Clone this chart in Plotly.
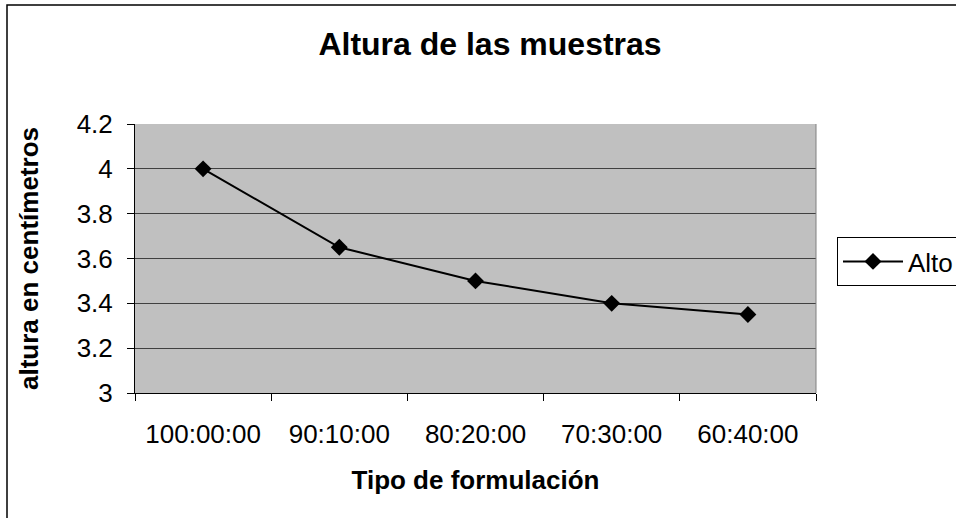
import plotly.graph_objects as go

# Sample formulations and measured heights (cm)
formulaciones = ["100:00:00", "90:10:00", "80:20:00", "70:30:00", "60:40:00"]
alto = [4.0, 3.65, 3.5, 3.4, 3.35]

y_ticks = [3, 3.2, 3.4, 3.6, 3.8, 4, 4.2]
y_tick_text = ["3", "3.2", "3.4", "3.6", "3.8", "4", "4.2"]

W, H = 956, 518
L, R, T, B = 135, 140, 124, 125
pw, ph = W - L - R, H - T - B


def px_x(x):
    return (x - L) / pw


def px_y(y):
    return (H - B - y) / ph


FONT = "Liberation Sans, Arial, sans-serif"

fig = go.Figure()
fig.add_trace(go.Scatter(
    x=formulaciones, y=alto, name="Alto", mode="lines+markers",
    line=dict(color="black", width=2),
    marker=dict(symbol="diamond", size=13, color="black"),
))

fig.update_layout(
    width=W, height=H,
    margin=dict(l=L, r=R, t=T, b=B, autoexpand=False),
    paper_bgcolor="white", plot_bgcolor="#C0C0C0",
    font=dict(family=FONT, size=26, color="black"),
    title=dict(text="<b>Altura de las muestras</b>", font=dict(size=32),
               x=px_x(490), xref="paper", xanchor="center",
               y=1 - 44 / H, yref="container", yanchor="middle"),
    showlegend=True,
    legend=dict(x=px_x(837), xanchor="left", y=px_y(237), yanchor="top",
                bordercolor="black", borderwidth=1, bgcolor="white",
                font=dict(size=26), itemwidth=60, tracegroupgap=0),
    xaxis=dict(
        type="category", range=[-0.5, 4.5],
        showline=True, linecolor="black", linewidth=1,
        ticks="outside", tickson="boundaries", ticklen=7, tickcolor="black",
        showgrid=False, zeroline=False,
        title=dict(text="<b>Tipo de formulación</b>", font=dict(size=26), standoff=22),
        ticklabelstandoff=18,
    ),
    yaxis=dict(
        range=[3, 4.2], tickvals=y_ticks, ticktext=y_tick_text,
        showline=True, linecolor="black", linewidth=1,
        ticks="outside", ticklen=7, tickcolor="black",
        showgrid=True, gridcolor="#404040", gridwidth=1, zeroline=False,
        title=dict(text="<b>altura en centímetros</b>", font=dict(size=26), standoff=30),
        ticklabelstandoff=9,
    ),
    shapes=[
        # right edge of the plotting area
        dict(type="line", xref="paper", yref="paper", x0=1, x1=1, y0=0, y1=1,
             line=dict(color="#808080", width=1)),
        # outer chart frame
        dict(type="rect", xref="paper", yref="paper",
             x0=px_x(7), x1=px_x(962), y0=px_y(525), y1=px_y(5),
             line=dict(color="black", width=1.5)),
    ],
)

fig.write_html("out.html")
